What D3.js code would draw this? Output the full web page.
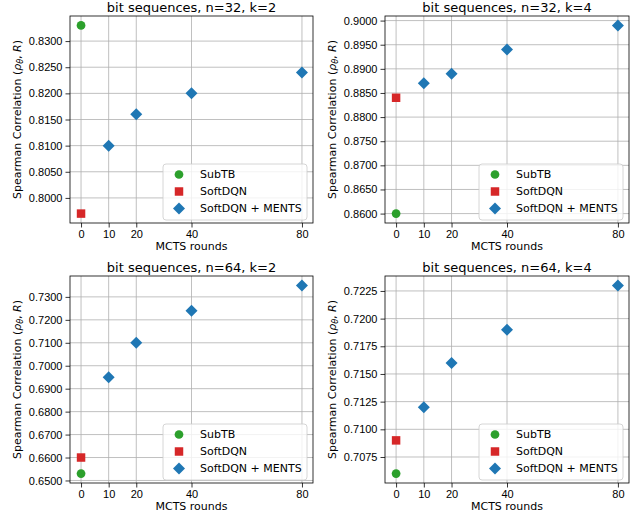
<!DOCTYPE html>
<html>
<head>
<meta charset="utf-8">
<script src="https://cdn.jsdelivr.net/npm/d3@7"></script>
<style>
  body { margin: 0; background: #fff; }
  svg { font-family: "DejaVu Sans", sans-serif; }
  .axis text { font-size: 11px; fill: #000; }
  .axis path, .axis line { stroke: #000; stroke-width: 0.8; }
  .grid line { stroke: #b0b0b0; stroke-width: 0.8; }
</style>
</head>
<body>
<svg id="chart" width="632" height="516"></svg>
<script>
  "use strict";

  const TITLES = [
    "bit sequences, n=32, k=2",
    "bit sequences, n=32, k=4",
    "bit sequences, n=64, k=2",
    "bit sequences, n=64, k=4"
  ];
  const X_TICKS = [0, 10, 20, 40, 80];
  const SUBTB_Y   = [0.833, 0.860, 0.653, 0.706];
  const SOFTDQN_Y = [0.797, 0.884, 0.660, 0.709];
  const MENTS_X = [10, 20, 40, 80];
  const MENTS_Y = [
    [0.810, 0.816, 0.820, 0.824],
    [0.887, 0.889, 0.894, 0.899],
    [0.695, 0.710, 0.724, 0.735],
    [0.712, 0.716, 0.719, 0.723]
  ];
  const Y_TICKS = [
    [0.8000, 0.8050, 0.8100, 0.8150, 0.8200, 0.8250, 0.8300],
    [0.8600, 0.8650, 0.8700, 0.8750, 0.8800, 0.8850, 0.8900, 0.8950, 0.9000],
    [0.6500, 0.6600, 0.6700, 0.6800, 0.6900, 0.7000, 0.7100, 0.7200, 0.7300],
    [0.7075, 0.7100, 0.7125, 0.7150, 0.7175, 0.7200, 0.7225]
  ];
  const SERIES = ["SubTB", "SoftDQN", "SoftDQN + MENTS"];
  const COLORS = ["#2ca02c", "#d62728", "#1f77b4"];

  const svg = d3.select("#chart");
  const boxes = [
    { x0: 70,  x1: 313, y0: 16,  y1: 223 },
    { x0: 385, x1: 629, y0: 16,  y1: 223 },
    { x0: 70,  x1: 313, y0: 276, y1: 483 },
    { x0: 385, x1: 629, y0: 276, y1: 483 }
  ];

  const symCircle  = d3.symbol().type(d3.symbolCircle).size(60);
  const symSquare  = d3.symbol().type(d3.symbolSquare).size(72);
  const symDiamond = d3.symbol().type(d3.symbolSquare).size(72);
  const shapes = [symCircle, symSquare, symDiamond];

  boxes.forEach((b, i) => {
    const iw = b.x1 - b.x0, ih = b.y1 - b.y0;
    const g = svg.append("g").attr("transform", `translate(${b.x0},${b.y0})`);

    const x = d3.scaleLinear().domain([-4, 84]).range([0, iw]);
    const allY = [SUBTB_Y[i], SOFTDQN_Y[i], ...MENTS_Y[i]];
    const [lo, hi] = d3.extent(allY);
    const pad = (hi - lo) * 0.05;
    const y = d3.scaleLinear().domain([lo - pad, hi + pad]).range([ih, 0]);

    // grid
    const grid = g.append("g").attr("class", "grid");
    grid.selectAll("line.gx").data(X_TICKS).join("line")
      .attr("x1", d => x(d)).attr("x2", d => x(d))
      .attr("y1", 0).attr("y2", ih);
    grid.selectAll("line.gy").data(Y_TICKS[i]).join("line")
      .attr("x1", 0).attr("x2", iw)
      .attr("y1", d => y(d)).attr("y2", d => y(d));

    g.append("g").attr("class", "axis")
      .attr("transform", `translate(0,${ih})`)
      .call(d3.axisBottom(x).tickValues(X_TICKS).tickSize(4.5).tickSizeOuter(0).tickPadding(3));
    g.append("g").attr("class", "axis")
      .call(d3.axisLeft(y).tickValues(Y_TICKS[i]).tickFormat(d3.format(".4f"))
        .tickSize(4.5).tickSizeOuter(0).tickPadding(3));
    g.selectAll(".axis .domain").remove();

    // points
    g.append("path").attr("d", symCircle())
      .attr("transform", `translate(${x(0)},${y(SUBTB_Y[i])})`)
      .attr("fill", COLORS[0]);
    g.append("path").attr("d", symSquare())
      .attr("transform", `translate(${x(0)},${y(SOFTDQN_Y[i])})`)
      .attr("fill", COLORS[1]);
    g.selectAll("path.ments").data(MENTS_Y[i]).join("path")
      .attr("class", "ments")
      .attr("d", symDiamond())
      .attr("transform", (d, j) => `translate(${x(MENTS_X[j])},${y(d)}) rotate(45)`)
      .attr("fill", COLORS[2]);

    // frame
    g.append("rect").attr("width", iw).attr("height", ih)
      .attr("fill", "none").attr("stroke", "#000").attr("stroke-width", 0.8);

    // title
    g.append("text").attr("x", iw / 2).attr("y", -4)
      .attr("text-anchor", "middle").style("font-size", "13px")
      .text(TITLES[i]);

    // x label
    g.append("text").attr("x", iw / 2).attr("y", ih + 27)
      .attr("text-anchor", "middle").style("font-size", "11px")
      .text("MCTS rounds");

    // y label
    const yl = g.append("text")
      .attr("transform", `translate(-49,${ih / 2}) rotate(-90)`)
      .attr("text-anchor", "middle").style("font-size", "11px");
    yl.append("tspan").text("Spearman Correlation (");
    yl.append("tspan").attr("font-style", "italic").text("ρ");
    yl.append("tspan").attr("font-style", "italic").attr("font-size", "8px").attr("dy", 2).text("θ");
    yl.append("tspan").attr("dy", -2).text(", ");
    yl.append("tspan").attr("font-style", "italic").text("R");
    yl.append("tspan").text(")");

    // legend
    const lw = 144, lh = 56;
    const leg = g.append("g").attr("transform", `translate(${iw - lw - 6},${ih - lh - 3})`);
    leg.append("rect").attr("width", lw).attr("height", lh).attr("rx", 3)
      .attr("fill", "rgba(255,255,255,0.8)").attr("stroke", "#cccccc").attr("stroke-width", 0.8);
    SERIES.forEach((s, k) => {
      const cy = 10.5 + k * 17;
      leg.append("path").attr("d", shapes[k]())
        .attr("transform", `translate(16,${cy})${k === 2 ? " rotate(45)" : ""}`)
        .attr("fill", COLORS[k]);
      leg.append("text").attr("x", 37).attr("y", cy).attr("dy", "0.35em")
        .style("font-size", "11px").text(s);
    });
  });
</script>
</body>
</html>
